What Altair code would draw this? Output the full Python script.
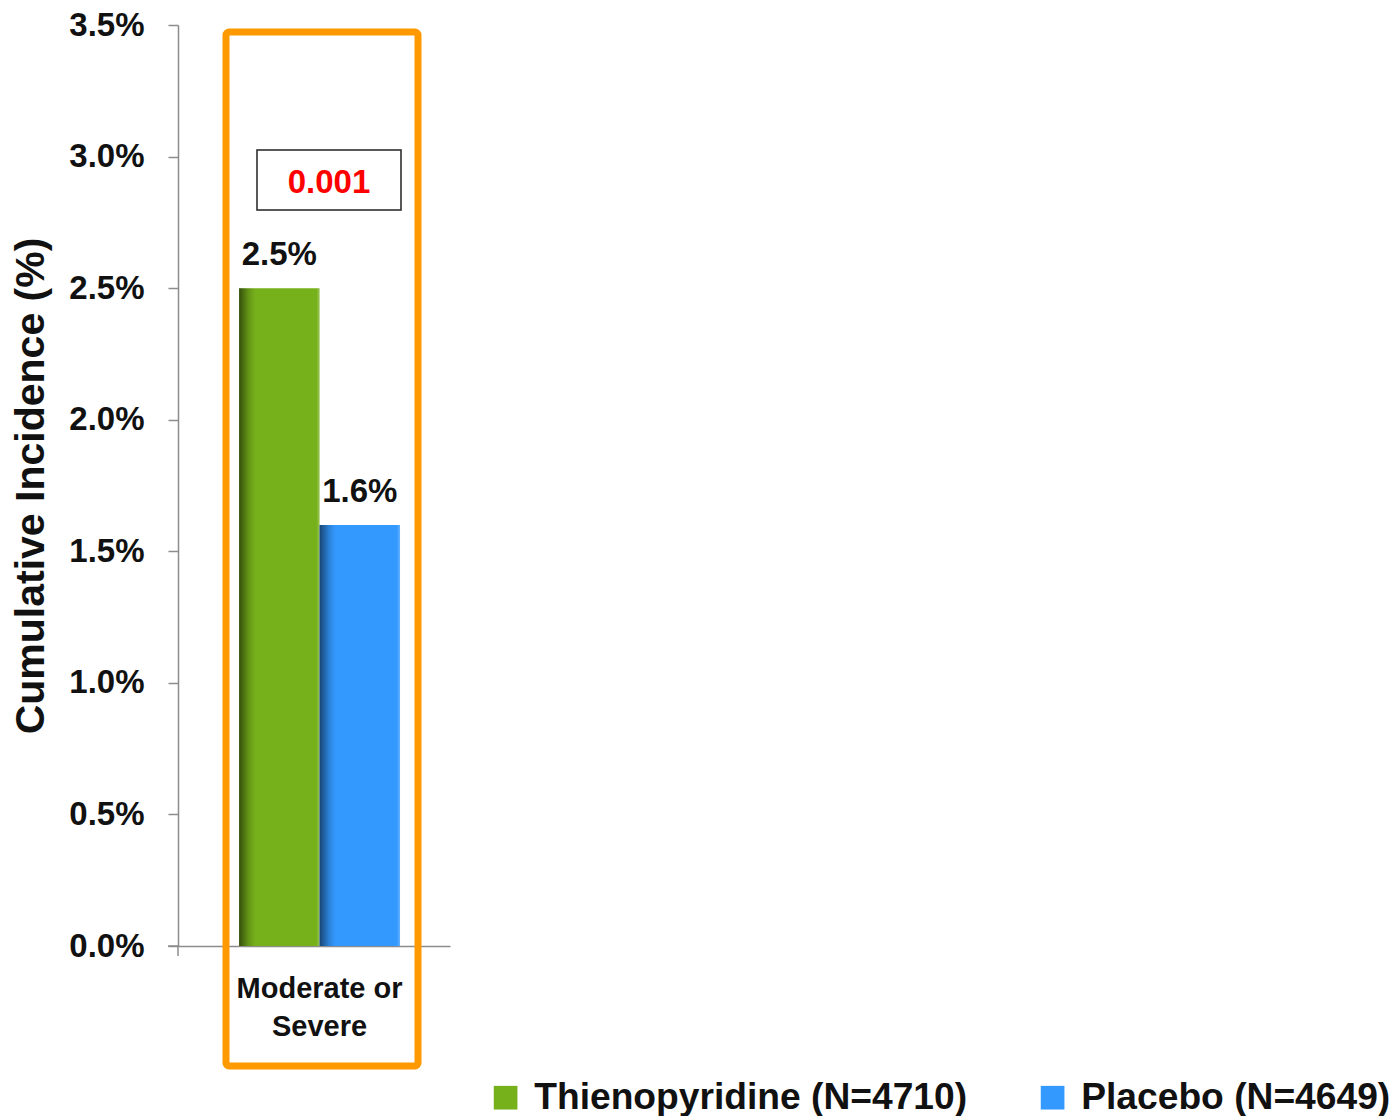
import altair as alt
import pandas as pd

# Bleeding outcome, cumulative incidence by treatment arm
categories = ["Moderate or Severe"]
groups = ["Thienopyridine (N=4710)", "Placebo (N=4649)"]
values = [2.5, 1.6]
group_colors = ["#76B01B", "#3399FF"]
p_value = "0.001"
y_ticks = [0.0, 0.5, 1.0, 1.5, 2.0, 2.5, 3.0, 3.5]

df = pd.DataFrame({
    "category": [categories[0]] * len(groups),
    "group": groups,
    "value": values,
    "label": [f"{v:.1f}%" for v in values],
})

FONT = "Liberation Sans"
W, H = 272, 921

x_enc = alt.X(
    "category:N",
    title=None,
    scale=alt.Scale(paddingInner=0, paddingOuter=0.345, align=0.55),
    axis=alt.Axis(
        labelExpr="['Moderate or', 'Severe']",
        labelAngle=0,
        labelFont=FONT,
        labelFontSize=29,
        labelFontWeight="bold",
        labelColor="#111111",
        labelPadding=28,
        labelLineHeight=38,
        ticks=False,
        domainColor="#8c8c8c",
        domainWidth=1.5,
    ),
)
xoff_enc = alt.XOffset("group:N", scale=alt.Scale(domain=groups, paddingInner=0, paddingOuter=0))
y_enc = alt.Y(
    "value:Q",
    title="Cumulative Incidence (%)",
    scale=alt.Scale(domain=[0, 3.5], nice=False),
    axis=alt.Axis(
        values=y_ticks,
        labelExpr="format(datum.value, '.1f') + '%'",
        labelFont=FONT,
        labelFontSize=33,
        labelFontWeight="bold",
        labelColor="#111111",
        labelPadding=24,
        tickSize=10,
        tickColor="#8c8c8c",
        tickWidth=1.5,
        domainColor="#8c8c8c",
        domainWidth=1.5,
        grid=False,
        titleFont=FONT,
        titleFontSize=41,
        titleFontWeight="bold",
        titleColor="#111111",
        titlePadding=16,
    ),
)

base = alt.Chart(df)

bars = base.mark_bar().encode(
    x=x_enc,
    xOffset=xoff_enc,
    y=y_enc,
    color=alt.Color(
        "group:N",
        scale=alt.Scale(domain=groups, range=group_colors),
        legend=alt.Legend(
            title=None,
            orient="none",
            direction="horizontal",
            legendX=309,
            legendY=1054,
            symbolType="square",
            symbolSize=560,
            symbolStrokeWidth=0,
            labelFont=FONT,
            labelFontSize=37.2,
            labelFontWeight="bold",
            labelColor="#111111",
            labelOffset=10,
            columnPadding=66,
            labelLimit=600,
        ),
    ),
)

# darker bevel shading along the left edge of each bar
shade = base.mark_bar(
    fill=alt.Gradient(
        gradient="linear",
        x1=0, x2=1, y1=0, y2=0,
        stops=[
            alt.GradientStop(color="rgba(0,0,0,0.55)", offset=0),
            alt.GradientStop(color="rgba(0,0,0,0.15)", offset=0.12),
            alt.GradientStop(color="rgba(0,0,0,0)", offset=0.2),
            alt.GradientStop(color="rgba(255,255,255,0)", offset=0.96),
            alt.GradientStop(color="rgba(255,255,255,0.25)", offset=1),
        ],
    )
).encode(x=x_enc, xOffset=xoff_enc, y="value:Q")

labels = base.mark_text(
    font=FONT, fontSize=33, fontWeight="bold", color="#111111",
    baseline="bottom", dy=-16,
).encode(x=x_enc, xOffset=xoff_enc, y="value:Q", text="label:N")

# p-value box
pdf = pd.DataFrame({"p": [p_value]})
pbox = alt.Chart(pdf).mark_rect(
    filled=False, stroke="#222222", strokeWidth=1.5
).encode(
    x=alt.value(79), x2=alt.value(223),
    y=alt.datum(3.025), y2=alt.datum(2.797),
)
ptext = alt.Chart(pdf).mark_text(
    font=FONT, fontSize=33, fontWeight="bold", color="#FF0000", baseline="middle"
).encode(x=alt.value(151), y=alt.datum(2.9), text="p:N")

# highlight frame around the category
frame = alt.Chart(pdf).mark_rect(
    filled=False, stroke="#FF9900", strokeWidth=7, cornerRadius=3
).encode(x=alt.value(48), x2=alt.value(240), y=alt.value(7), y2=alt.value(1041))

# baseline stub left of the y axis and a small tick below the origin
stub = alt.Chart(pdf).mark_rule(color="#8c8c8c", strokeWidth=1.5).encode(
    x=alt.value(-10), x2=alt.value(0), y=alt.datum(0)
)
origin_tick = alt.Chart(pdf).mark_rule(color="#8c8c8c", strokeWidth=1.5).encode(
    x=alt.value(0), y=alt.value(H), y2=alt.value(H + 10)
)

chart = alt.layer(
    bars, shade, labels, pbox, ptext, frame, stub, origin_tick
).properties(
    width=W,
    height=H,
    background="white",
    autosize=alt.AutoSizeParams(type="none"),
    padding={"left": 178, "top": 25, "right": 1390 - 178 - W, "bottom": 1116 - 25 - H},
).configure_view(
    strokeWidth=0
)

chart.save("out.html", embed_options={"renderer": "svg", "actions": False})
